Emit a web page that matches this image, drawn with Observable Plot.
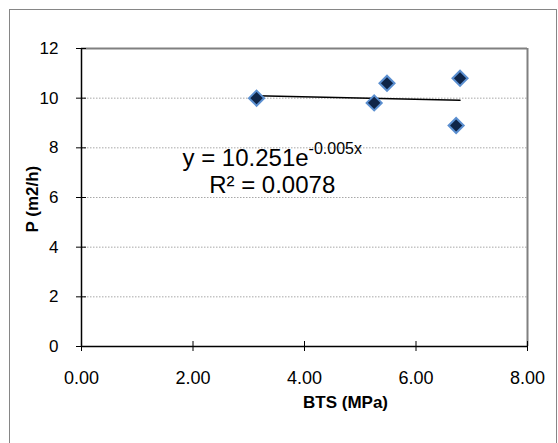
<!DOCTYPE html>
<html><head><meta charset="utf-8">
<script src="https://cdn.jsdelivr.net/npm/d3@7"></script>
<script src="https://cdn.jsdelivr.net/npm/@observablehq/plot@0.6"></script>
<style>
body{margin:0;background:#fff;}
#wrap{position:relative;width:558px;height:443px;overflow:hidden;background:#fff;}
#border{position:absolute;left:9px;top:9px;width:546px;height:460px;border:1px solid #868686;}
#chart{position:absolute;left:0;top:0;}
</style></head><body>
<div id="wrap"><div id="border"></div><div id="chart"></div></div>
<script>
const bts = [3.14, 5.25, 5.48, 6.72, 6.79];
const rate = [10.0, 9.81, 10.6, 8.9, 10.8];
const trendX = [3.14, 6.79];
const trendY = [10.1, 9.92];
const xTicks = [0, 2, 4, 6, 8];
const yTicks = [0, 2, 4, 6, 8, 10, 12];
const gridY = [2, 4, 6, 8, 10];
const xTitle = "BTS (MPa)";
const yTitle = "P (m2/h)";
const eqMain = "y = 10.251e";
const eqExp = "-0.005x";
const eqR2 = "R\u00B2 = 0.0078";
const eqAt = [3.43, 7.25];

const points = bts.map((x, i) => ({x, y: rate[i]}));
const trend = trendX.map((x, i) => ({x, y: trendY[i]}));

const plot = Plot.plot({
  width: 558, height: 443,
  marginLeft: 81, marginRight: 31, marginTop: 48, marginBottom: 97,
  style: {fontFamily: "'Liberation Sans', Arial, sans-serif", background: "transparent", color: "#000"},
  x: {domain: [0, 8]},
  y: {domain: [0, 12]},
  marks: [
    Plot.ruleY(gridY, {stroke: "#a8a8a8", strokeDasharray: "1.5,1.5", strokeWidth: 1}),
    Plot.ruleY([12], {stroke: "#808080", strokeWidth: 2}),
    Plot.ruleX([8], {stroke: "#808080", strokeWidth: 2}),
    Plot.ruleX([0], {stroke: "#000", strokeWidth: 1.5}),
    Plot.ruleY([0], {stroke: "#000", strokeWidth: 1.5}),
    Plot.axisX(xTicks, {tickSize: 10, insetBottom: 5, tickPadding: 20, tickFormat: d => d.toFixed(2), fontSize: 18, label: null}),
    Plot.axisY(yTicks, {tickSize: 10, insetLeft: 5, tickPadding: 18, fontSize: 17, label: null}),
    Plot.line(trend, {x: "x", y: "y", stroke: "#000", strokeWidth: 1.5}),
    Plot.dot(points, {x: "x", y: "y", symbol: "diamond2", r: 6.8, fill: "#0f2548", stroke: "#5b8fd0", strokeWidth: 2}),
    Plot.text([xTitle], {frameAnchor: "bottom", dx: 41, dy: 61, fontWeight: "bold", fontSize: 17}),
    Plot.text([yTitle], {frameAnchor: "left", rotate: -90, dx: -49, dy: 35, fontWeight: "bold", fontSize: 17})
  ]
});
document.getElementById("chart").appendChild(plot);

const sx = plot.scale("x"), sy = plot.scale("y");
const ex = sx.apply(eqAt[0]), ey = sy.apply(eqAt[1]);
const svg = d3.select(plot);
const t1 = svg.append("text")
  .attr("x", ex).attr("y", ey)
  .attr("text-anchor", "middle")
  .attr("font-size", 24)
  .attr("fill", "#000");
t1.append("tspan").text(eqMain);
t1.append("tspan").attr("font-size", 16).attr("dy", -12).text(eqExp);
svg.append("text")
  .attr("x", ex).attr("y", ey + 27)
  .attr("text-anchor", "middle")
  .attr("font-size", 24)
  .attr("fill", "#000")
  .text(eqR2);
</script>
</body></html>
